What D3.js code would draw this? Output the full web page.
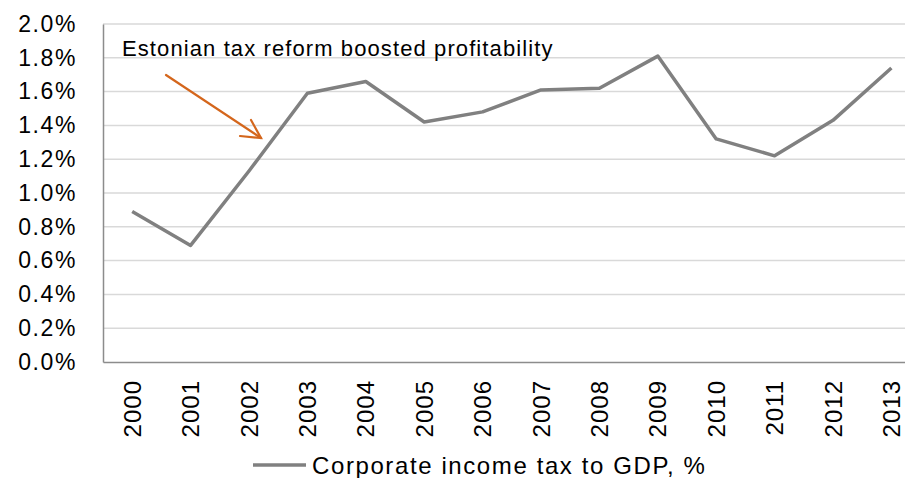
<!DOCTYPE html>
<html><head><meta charset="utf-8">
<script src="https://cdn.jsdelivr.net/npm/d3@7"></script>
<style>
body{margin:0;background:#fff;}
text{font-family:"Liberation Sans",Arial,Helvetica,sans-serif;fill:#000;}
</style></head>
<body><svg id="c" width="905" height="478"></svg>
<script>
const years = ["2000","2001","2002","2003","2004","2005","2006","2007","2008","2009","2010","2011","2012","2013"];
const values = [0.89,0.69,1.13,1.59,1.66,1.42,1.48,1.61,1.62,1.81,1.32,1.22,1.43,1.74];
const yTicks = [0,0.2,0.4,0.6,0.8,1.0,1.2,1.4,1.6,1.8,2.0];
const seriesName = "Corporate income tax to GDP, %";
const annotation = "Estonian tax reform boosted profitability";

const svg = d3.select("#c");
const left = 103, step = 58.4;
const x = d3.scaleBand().domain(years).range([left, left + step*years.length]).padding(0);
const y = d3.scaleLinear().domain([0,2]).range([362,24]);

// gridlines
svg.append("g").selectAll("line").data(yTicks.filter(d=>d>0)).join("line")
  .attr("x1", left).attr("x2", 905)
  .attr("y1", d=>y(d)).attr("y2", d=>y(d))
  .attr("stroke","#d9d9d9").attr("stroke-width",1.5);

// y axis
const yAxis = d3.axisLeft(y).tickValues(yTicks).tickFormat(d=>d.toFixed(1)+"%").tickSize(0).tickPadding(26);
const gy = svg.append("g").attr("transform",`translate(${left},0)`).call(yAxis);
gy.select(".domain").attr("stroke","#8c8c8c").attr("stroke-width",1.5);
gy.selectAll("text").attr("font-size","23px").attr("letter-spacing","1.6px").attr("fill","#000");

// x axis
const xAxis = d3.axisBottom(x).tickSize(0).tickPadding(0);
const gx = svg.append("g").attr("transform","translate(0,362)").call(xAxis);
gx.select(".domain").attr("stroke","#8c8c8c").attr("stroke-width",1.5);
gx.selectAll("text").attr("font-size","24px").attr("letter-spacing","1px").attr("fill","#000")
  .attr("text-anchor","end").attr("dy","0.36em")
  .attr("transform","translate(0,18) rotate(-90)").attr("y",0).attr("x",0);

// line
const line = d3.line().x((d,i)=>x(years[i])+x.bandwidth()/2).y(d=>y(d));
svg.append("path").datum(values).attr("d",line)
  .attr("fill","none").attr("stroke","#808080").attr("stroke-width",3.5).attr("stroke-linejoin","round");

// annotation
svg.append("text").attr("x",122).attr("y",56).attr("font-size","22px").attr("letter-spacing","1.1px").text(annotation);
const arrowColor = "#d4661c";
const ag = svg.append("g").attr("stroke",arrowColor).attr("stroke-width",2.2).attr("fill","none").attr("stroke-linecap","round");
ag.append("line").attr("x1",166).attr("y1",75).attr("x2",261).attr("y2",138);
ag.append("polyline").attr("points","251,120 261,138 240,136");

// legend
svg.append("line").attr("x1",253).attr("x2",306).attr("y1",465).attr("y2",465)
  .attr("stroke","#808080").attr("stroke-width",3.5);
svg.append("text").attr("x",312).attr("y",474).attr("font-size","24px").attr("letter-spacing","1.6px").text(seriesName);
</script></body></html>
